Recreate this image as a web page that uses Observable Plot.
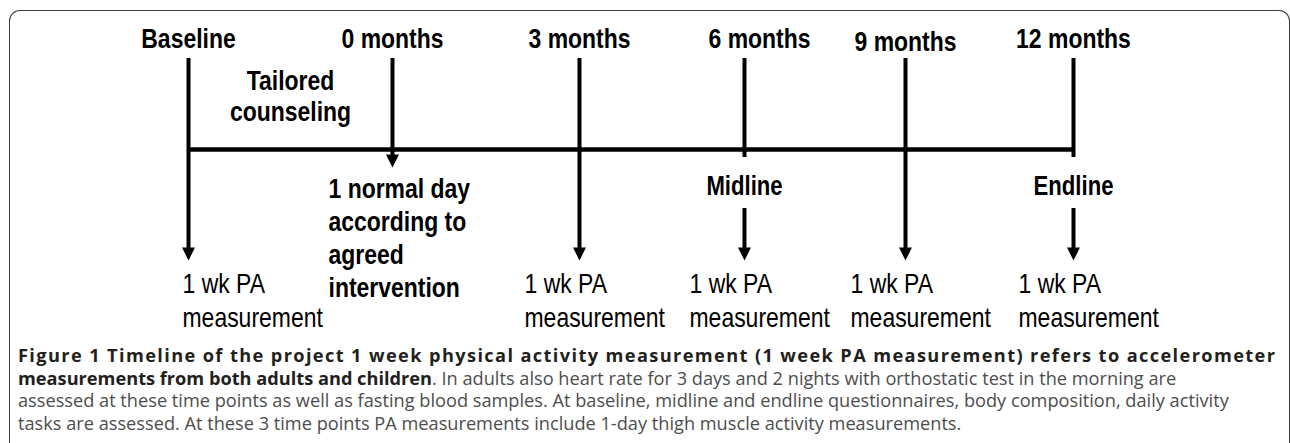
<!DOCTYPE html>
<html><head><meta charset="utf-8">
<script src="https://cdn.jsdelivr.net/npm/d3@7"></script>
<script src="https://cdn.jsdelivr.net/npm/@observablehq/plot@0.6"></script>
<style>
body{margin:0;background:#fff;}
#wrap{position:relative;width:1290px;height:443px;overflow:hidden;}
#frame{position:absolute;left:9px;top:10px;width:1281px;height:470px;border:1.5px solid #3c3c3c;border-bottom:none;border-radius:11px 11px 0 0;box-sizing:border-box;}
#chart{position:absolute;left:0;top:0;}
#caption{position:absolute;left:18px;top:344px;width:1257px;font-family:"Open Sans",sans-serif;font-size:18.2px;line-height:22.6px;color:#4d4d4d;}
.l{white-space:nowrap;}
#first{white-space:nowrap;display:inline-block;}
b{color:#231f20;font-weight:700;}
</style></head><body>
<div id="wrap"><div id="frame"></div><div id="chart"></div><div id="caption"></div></div>
<script>
// ---- data ----
const timepoints = ["Baseline", "0 months", "3 months", "6 months", "9 months", "12 months"];
const phaseLabels = ["", "", "", "Midline", "", "Endline"];
const measured = [true, false, true, true, true, true];
const counselingNote = "Tailored\ncounseling";
const dayNote = "1 normal day\naccording to\nagreed\nintervention";
const measureNote = "1 wk PA\nmeasurement";
const captionBold1 = "Figure 1 Timeline of the project 1 week physical activity measurement (1 week PA measurement) refers to accelerometer";
const captionBold2 = "measurements from both adults and children";
const captionRest2 = ". In adults also heart rate for 3 days and 2 nights with orthostatic test in the morning are";
const captionLine3 = "assessed at these time points as well as fasting blood samples. At baseline, midline and endline questionnaires, body composition, daily activity";
const captionLine4 = "tasks are assessed. At these 3 time points PA measurements include 1-day thigh muscle activity measurements.";

// ---- layout (diagram geometry, not data) ----
const X_STOPS = [188, 392, 579, 744, 905, 1073];
const Y = {labelTop: 28, lineTop: 58, timeline: 149, tipLong: 260, tipShort: 167,
           breakEnd: 157, breakStart: 208, phaseTop: 175, noteTop: 68, dayTop: 174, measureTop: 269};
const labelNudge = {"6 months": [15, 0], "9 months": [0, 3]};
const FONT = "'Liberation Sans','Arial',sans-serif";
const NARROW = 0.82;
const CAPTION_WIDTH = 1257;

// ---- build tables from data ----
const idx = timepoints.map((t, i) => i);
const segments = [];
const heads = [];
idx.forEach(i => {
  if (i === 1) {
    segments.push({i, y1: Y.lineTop, y2: Y.tipShort - 8});
    heads.push({i, y: Y.tipShort});
  } else if (phaseLabels[i]) {
    segments.push({i, y1: Y.lineTop, y2: Y.breakEnd});
    segments.push({i, y1: Y.breakStart, y2: Y.tipLong - 8});
    heads.push({i, y: Y.tipLong});
  } else {
    segments.push({i, y1: Y.lineTop, y2: Y.tipLong - 8});
    heads.push({i, y: Y.tipLong});
  }
});

const downTri = {draw(ctx) { ctx.moveTo(0, 0); ctx.lineTo(-6.5, -13); ctx.lineTo(6.5, -13); ctx.closePath(); }};

const textBase = {fontFamily: FONT, fill: "black", lineAnchor: "top"};

const marks = [
  Plot.ruleY([Y.timeline], {x1: 0, x2: timepoints.length - 1, stroke: "black", strokeWidth: 4.5}),
  Plot.ruleX(segments, {x: "i", y1: "y1", y2: "y2", stroke: "black", strokeWidth: 4}),
  Plot.dot(heads, {x: "i", y: "y", symbol: downTri, fill: "black", stroke: "none"}),
  ...timepoints.map((t, i) => Plot.text([t], {
    ...textBase, x: () => i, y: () => Y.labelTop, text: d => d,
    fontWeight: "bold", fontSize: 28,
    dx: (labelNudge[t] || [0, 0])[0], dy: (labelNudge[t] || [0, 0])[1]
  })),
  Plot.text([counselingNote], {...textBase, x: () => 0.5, y: () => Y.noteTop, text: d => d,
    fontWeight: "bold", fontSize: 28, lineHeight: 1.1}),
  Plot.text([dayNote], {...textBase, x: () => 1, y: () => Y.dayTop, text: d => d,
    fontWeight: "bold", fontSize: 28, lineHeight: 1.18, textAnchor: "start", dx: -64}),
  Plot.text(idx.filter(i => phaseLabels[i]), {...textBase, x: i => i, y: () => Y.phaseTop,
    text: i => phaseLabels[i], fontWeight: "bold", fontSize: 27}),
  Plot.text(idx.filter(i => measured[i] && i === 0), {...textBase, x: i => i, y: () => Y.measureTop,
    text: () => measureNote, fontSize: 28, lineHeight: 1.2, textAnchor: "start", dx: -6}),
  Plot.text(idx.filter(i => measured[i] && i > 0), {...textBase, x: i => i, y: () => Y.measureTop,
    text: () => measureNote, fontSize: 28, lineHeight: 1.2, textAnchor: "start", dx: -55})
];

const chart = Plot.plot({
  width: 1290, height: 344,
  marginTop: 0, marginRight: 0, marginBottom: 0, marginLeft: 0,
  x: {type: "linear", domain: idx, range: X_STOPS, axis: null},
  y: {type: "identity", axis: null},
  style: {background: "transparent", overflow: "visible"},
  marks
});
// condensed (Arial Narrow-like) lettering: squeeze each text horizontally around its anchor
chart.querySelectorAll("text").forEach(t => {
  const tr = t.getAttribute("transform") || "";
  t.setAttribute("transform", tr + ` scale(${NARROW},1)`);
});
document.getElementById("chart").appendChild(chart);

const cap = document.getElementById("caption");
cap.innerHTML =
  `<div><span id="first"><b>${captionBold1}</b></span></div>` +
  `<div class="l"><b>${captionBold2}</b>${captionRest2}</div>` +
  `<div class="l">${captionLine3}</div>` +
  `<div class="l">${captionLine4}</div>`;
// spread the first (bold) caption line across the full width, as in a justified journal caption
const first = document.getElementById("first");
const natural = first.getBoundingClientRect().width;
const n = captionBold1.length - 1;
first.style.letterSpacing = ((CAPTION_WIDTH - natural) / n) + "px";
</script>
</body></html>
